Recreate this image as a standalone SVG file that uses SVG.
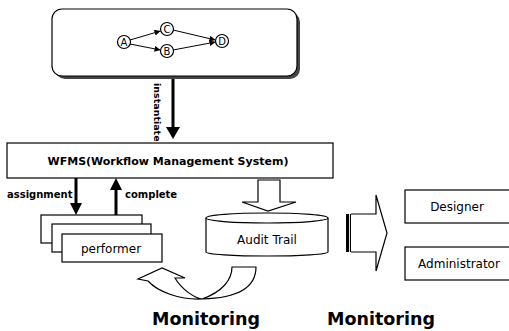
<svg xmlns="http://www.w3.org/2000/svg" width="509" height="331" viewBox="0 0 509 331">
<style>
.box{fill:#fff;stroke:#000;stroke-width:1.2}
.lbl{font-family:"DejaVu Sans",sans-serif;font-size:12px;fill:#000;text-anchor:middle}
.bold{font-family:"DejaVu Sans",sans-serif;font-weight:bold;fill:#000}
.node{fill:#fff;stroke:#000;stroke-width:1.2}
.nl{font-family:"DejaVu Sans",sans-serif;font-size:10px;fill:#000;text-anchor:middle}
.edge{stroke:#000;stroke-width:1;fill:none;marker-end:url(#ah)}
.thick{stroke:#000;stroke-width:3;fill:none}
</style>
<defs>
<marker id="ah" viewBox="0 0 10 10" refX="10" refY="5" markerWidth="6" markerHeight="6" orient="auto" markerUnits="userSpaceOnUse">
<path d="M0,0 L10,5 L0,10 z" fill="#000"/>
</marker>
</defs>
<rect width="509" height="331" fill="#fff"/>

<g id="process">
<rect x="55" y="12" width="245" height="67" rx="10" fill="#444"/>
<rect class="box" x="52" y="9" width="245" height="67" rx="10"/>
<g id="nodeA"><circle class="node" cx="124" cy="42" r="6.5"/><text class="nl" x="124" y="45.5">A</text></g>
<g id="nodeC"><circle class="node" cx="167" cy="29" r="6.5"/><text class="nl" x="167" y="32.5">C</text></g>
<g id="nodeB"><circle class="node" cx="167" cy="51" r="6.5"/><text class="nl" x="167" y="54.5">B</text></g>
<g id="nodeD"><circle class="node" cx="222" cy="41" r="6.5"/><text class="nl" x="222" y="44.5">D</text></g>
<g id="process-edges">
<line class="edge" x1="130" y1="40" x2="160.5" y2="31"/>
<line class="edge" x1="130" y1="44" x2="160.5" y2="50"/>
<line class="edge" x1="173" y1="30" x2="215.5" y2="40"/>
<line class="edge" x1="173" y1="50" x2="215.5" y2="42"/>
</g>
</g>

<g id="wfms">
<rect class="box" x="7" y="143" width="326" height="35"/>
<text class="bold" x="168" y="165" font-size="11" text-anchor="middle">WFMS(Workflow Management System)</text>
</g>

<g id="performer">
<rect class="box" x="41" y="215" width="101" height="28"/>
<rect class="box" x="52" y="224" width="99" height="28"/>
<rect class="box" x="62" y="234" width="100" height="28"/>
<text class="lbl" x="111" y="253">performer</text>
</g>

<g id="audit">
<path class="box" d="M206,218 L206,252 A61,4 0 0 0 328,252 L328,218"/>
<ellipse class="box" cx="267" cy="218" rx="61" ry="5"/>
<text class="lbl" x="267" y="244">Audit Trail</text>
</g>

<g id="designer">
<rect class="box" x="405" y="190" width="106" height="33"/>
<text class="lbl" x="457" y="211">Designer</text>
</g>
<g id="administrator">
<rect class="box" x="405" y="247" width="106" height="33"/>
<text class="lbl" x="459" y="268">Administrator</text>
</g>

<g id="connectors">
<line class="thick" x1="173" y1="79" x2="173" y2="128"/>
<path d="M166,127 L180,127 L173,139 z" fill="#000"/>
<text class="bold" font-size="9.5" transform="translate(154,83) rotate(90)">instantiate</text>

<line class="thick" x1="76" y1="178" x2="76" y2="204"/>
<path d="M70,203 L82,203 L76,215 z" fill="#000"/>
<text class="bold" font-size="10" x="7" y="198">assignment</text>

<line class="thick" x1="116" y1="189" x2="116" y2="215"/>
<path d="M110,190 L122,190 L116,178 z" fill="#000"/>
<text class="bold" font-size="10" x="125" y="198">complete</text>

<path class="box" d="M258,180 L280,180 L280,202 L296,202 L268,211 L242,202 L258,202 z"/>

<path class="box" d="M232,267 L256,267 C256,285 242,298 202,299 C180,300 158,292 148,281 L138,279 L162,268 L185,278 L175,278 C182,290 195,298 202,299 C222,292 232,280 232,267 z"/>

<rect x="346" y="214" width="3" height="38" fill="#000"/>
<line x1="350.5" y1="214" x2="350.5" y2="252" stroke="#000" stroke-width="1.2"/>
<path class="box" d="M351,214 L376,214 L376,195 L387,233 L376,271 L376,252 L351,252"/>
</g>

<text class="bold" font-size="17.5" x="206" y="325" text-anchor="middle">Monitoring</text>
<text class="bold" font-size="17.5" x="381" y="325" text-anchor="middle">Monitoring</text>
</svg>
